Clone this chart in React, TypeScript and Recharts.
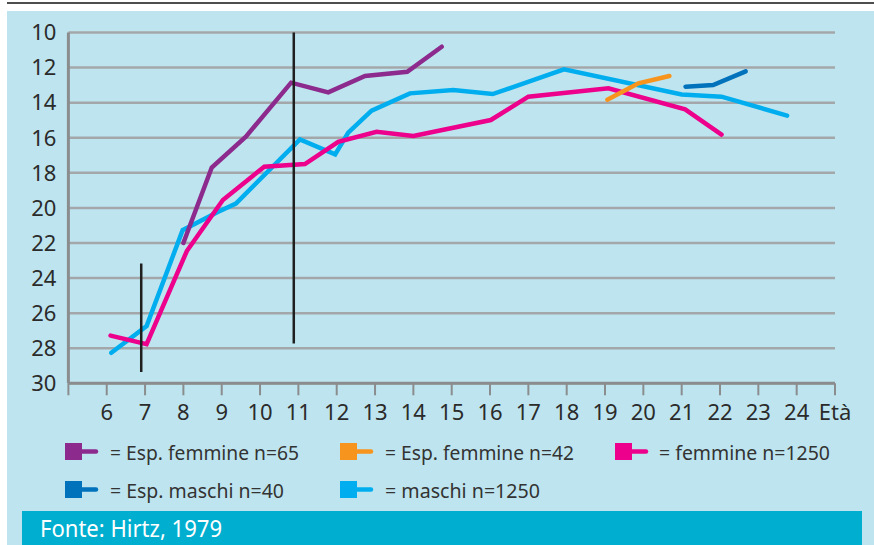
import React from 'react';
import { LineChart, Line, XAxis, YAxis, CartesianGrid } from 'recharts';

// ---- data (age, score) ----
const espF65Ages = [8.0, 8.74, 9.63, 10.81, 11.78, 12.74, 13.84, 14.74];
const espF65Vals = [22.0, 17.7, 15.94, 12.86, 13.41, 12.48, 12.24, 10.81];

const espF42Ages = [19.06, 19.87, 20.68];
const espF42Vals = [13.83, 12.9, 12.48];

const femmineAges = [6.1, 7.04, 8.09, 9.03, 10.11, 11.17, 12.04, 13.04, 14.0, 16.02, 17.0, 19.09, 21.09, 22.04];
const femmineVals = [27.28, 27.77, 22.46, 19.55, 17.65, 17.5, 16.23, 15.66, 15.9, 14.99, 13.66, 13.18, 14.38, 15.82];

const espM40Ages = [21.1, 21.82, 22.67];
const espM40Vals = [13.09, 13.0, 12.22];

const maschiAges = [6.12, 7.04, 7.98, 8.91, 9.37, 11.04, 11.96, 12.3, 12.91, 13.91, 15.04, 16.07, 17.93, 21.0, 22.04, 23.75];
const maschiVals = [28.26, 26.74, 21.27, 20.22, 19.75, 16.09, 16.95, 15.71, 14.46, 13.47, 13.28, 13.51, 12.1, 13.53, 13.66, 14.74];

const bar1Ages = [6.9, 6.9];
const bar1Vals = [23.17, 29.35];
const bar2Ages = [10.88, 10.88];
const bar2Vals = [10.0, 27.73];

const yTicks = [10, 12, 14, 16, 18, 20, 22, 24, 26, 28, 30];
const xTicks = [5, 6, 7, 8, 9, 10, 11, 12, 13, 14, 15, 16, 17, 18, 19, 20, 21, 22, 23, 24, 25];
const xAxisTitle = 'Età';

const legendItems = [
  { label: '= Esp. femmine n=65', color: '#8C2A8D' },
  { label: '= Esp. femmine n=42', color: '#F7941D' },
  { label: '= femmine n=1250', color: '#EC008C' },
  { label: '= Esp. maschi n=40', color: '#0072BC' },
  { label: '= maschi n=1250', color: '#00AEEF' },
];
const sourceText = 'Fonte: Hirtz, 1979';

const build = (ages: number[], vals: number[]) => ages.map((a, i) => ({ age: a, score: vals[i] }));

const series = [
  { key: 'maschi', data: build(maschiAges, maschiVals), color: legendItems[4].color },
  { key: 'femmine', data: build(femmineAges, femmineVals), color: legendItems[2].color },
  { key: 'espF65', data: build(espF65Ages, espF65Vals), color: legendItems[0].color },
  { key: 'espF42', data: build(espF42Ages, espF42Vals), color: legendItems[1].color },
  { key: 'espM40', data: build(espM40Ages, espM40Vals), color: legendItems[3].color },
];
const bars = [
  { key: 'bar1', data: build(bar1Ages, bar1Vals) },
  { key: 'bar2', data: build(bar2Ages, bar2Vals) },
];

// legend layout
const legendPos = [
  { x: 65, y: 443, tx: 110, w: 189 },
  { x: 340, y: 443, tx: 385, w: 189 },
  { x: 615, y: 443, tx: 659, w: 171 },
  { x: 65, y: 481, tx: 110, w: 174 },
  { x: 340, y: 481, tx: 385, w: 155 },
];

const FONT = '"Noto Sans", "DejaVu Sans", sans-serif';

export default function App() {
  return (
    <div
      style={{
        position: 'absolute',
        left: 0,
        top: 0,
        width: 874,
        height: 545,
        background: '#ffffff',
        overflow: 'hidden',
        fontFamily: FONT,
      }}
    >
      <div style={{ position: 'absolute', left: 7, top: 2, width: 867, height: 2, background: '#4d4d4d' }} />
      <div style={{ position: 'absolute', left: 7, top: 11, width: 867, height: 534, background: '#BEE5EF' }} />
      <div style={{ position: 'absolute', left: 0, top: 0 }}>
        <LineChart width={874} height={430} margin={{ top: 32.5, right: 39, bottom: 16.7, left: 8.4 }}>
          <CartesianGrid vertical={false} stroke="#A4A7AA" strokeWidth={2.5} />
          <XAxis
            type="number"
            dataKey="age"
            domain={[5, 25]}
            ticks={xTicks}
            interval={0}
            allowDataOverflow
            height={30}
            tickSize={12}
            tickMargin={9}
            axisLine={{ stroke: '#8a8c8e', strokeWidth: 3 }}
            tickLine={{ stroke: '#8a8c8e', strokeWidth: 2 }}
            tick={{ fill: '#2b2b2b', fontSize: 22, fontFamily: FONT }}
            tickFormatter={(v: number) => (v === 5 ? '' : v === 25 ? xAxisTitle : String(v))}
          />
          <YAxis
            type="number"
            dataKey="score"
            reversed
            domain={[10, 30]}
            ticks={yTicks}
            interval={0}
            width={60}
            tickSize={0}
            tickMargin={12}
            tickLine={false}
            axisLine={{ stroke: '#8a8c8e', strokeWidth: 3 }}
            tick={{ fill: '#2b2b2b', fontSize: 22, fontFamily: FONT }}
          />
          {series.map((s) => (
            <Line
              key={s.key}
              data={s.data}
              dataKey="score"
              type="linear"
              stroke={s.color}
              strokeWidth={4.5}
              strokeLinecap="round"
              dot={false}
              activeDot={false}
              isAnimationActive={false}
            />
          ))}
          {bars.map((b) => (
            <Line
              key={b.key}
              data={b.data}
              dataKey="score"
              type="linear"
              stroke="#1f1f1f"
              strokeWidth={2.5}
              dot={false}
              activeDot={false}
              isAnimationActive={false}
            />
          ))}
        </LineChart>
      </div>
      <svg
        width={874}
        height={545}
        style={{ position: 'absolute', left: 0, top: 0, pointerEvents: 'none' }}
      >
        {legendItems.map((it, i) => {
          const p = legendPos[i];
          return (
            <g key={it.label}>
              <rect x={p.x} y={p.y} width={17} height={17} fill={it.color} />
              <line
                x1={p.x + 17}
                y1={p.y + 8.5}
                x2={p.x + 31}
                y2={p.y + 8.5}
                stroke={it.color}
                strokeWidth={4.5}
                strokeLinecap="round"
              />
              <text
                x={p.tx}
                y={p.y + 16.5}
                fontSize={20.5}
                fill="#333333"
                fontFamily={FONT}
                textLength={p.w}
                lengthAdjust="spacingAndGlyphs"
              >
                {it.label}
              </text>
            </g>
          );
        })}
        <rect x={22} y={511} width={840} height={34} fill="#00AFD0" />
        <text
          x={40}
          y={537}
          fontSize={23}
          fill="#ffffff"
          fontFamily={FONT}
          textLength={182}
          lengthAdjust="spacingAndGlyphs"
        >
          {sourceText}
        </text>
      </svg>
    </div>
  );
}
